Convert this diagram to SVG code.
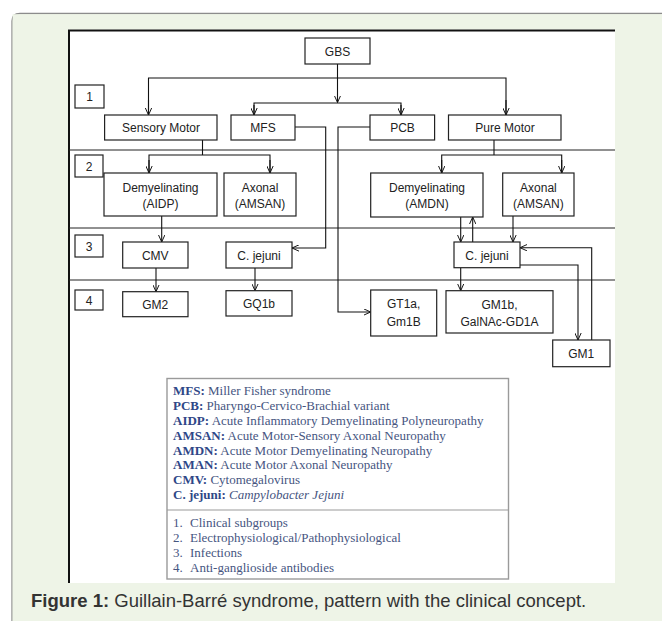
<svg xmlns="http://www.w3.org/2000/svg" width="662" height="621" viewBox="0 0 662 621">
<style>
.box{fill:#fff;stroke:#222;stroke-width:1.2}
.t{font-family:"Liberation Sans",Arial,sans-serif;font-size:12px;fill:#222;text-anchor:middle}
.ln{fill:none;stroke:#111;stroke-width:1.1}
.sep{stroke:#222;stroke-width:1}
.lg{font-family:"Liberation Serif","Times New Roman",serif;font-size:13px;fill:#46557f}
.lb{font-weight:bold;fill:#2f4787}
.cap{font-family:"Liberation Sans",Arial,sans-serif;font-size:18.5px;fill:#333}
</style>
<defs>
<marker id="ar" viewBox="0 0 10 10" refX="10" refY="5" markerWidth="7" markerHeight="7" markerUnits="userSpaceOnUse" orient="auto">
<path d="M0,0.5 L10,5 L0,9.5" fill="none" stroke="#111" stroke-width="1.4"/>
</marker>
</defs>
<g id="panel">
<path d="M12,621 L12,21 Q12,13.5 20,13.5 L662,13.5" fill="#eef4e7" stroke="#8c8c8c" stroke-width="1.3"/>
<rect x="12.6" y="14.2" width="650" height="607" fill="#eef4e7"/>
<rect x="68" y="29.5" width="547" height="553.5" fill="#fff"/>
<path d="M69,583 L69,30.5 L615,30.5" fill="none" stroke="#111" stroke-width="2"/>
</g>
<g id="rows">
<line class="sep" x1="69" y1="150" x2="615" y2="150"/>
<line class="sep" x1="69" y1="228" x2="615" y2="228"/>
<line class="sep" x1="69" y1="280" x2="615" y2="280"/>
</g>
<g id="connectors">
<path class="ln" d="M337.5,64 L337.5,102.5" marker-end="url(#ar)"/>
<path class="ln" d="M148.5,115 L148.5,78 L506,78 L506,115" />
<path class="ln" d="M148.5,100 L148.5,115" marker-end="url(#ar)"/>
<path class="ln" d="M506,100 L506,115" marker-end="url(#ar)"/>
<path class="ln" d="M254,115 L254,103 L401,103 L401,115"/>
<path class="ln" d="M254,105 L254,115" marker-end="url(#ar)"/>
<path class="ln" d="M401,105 L401,115" marker-end="url(#ar)"/>
<path class="ln" d="M295,127 L325.7,127 L325.7,248 L292,248" marker-end="url(#ar)"/>
<path class="ln" d="M370,127 L338,127 L338,312 L370.7,312" marker-end="url(#ar)"/>
<path class="ln" d="M202.5,140 L202.5,155"/>
<path class="ln" d="M149,173 L149,155 L270,155 L270,173"/>
<path class="ln" d="M149,160 L149,173" marker-end="url(#ar)"/>
<path class="ln" d="M270,160 L270,173" marker-end="url(#ar)"/>
<path class="ln" d="M494,140 L494,155"/>
<path class="ln" d="M441.7,173 L441.7,155 L561.7,155 L561.7,173"/>
<path class="ln" d="M441.7,160 L441.7,173" marker-end="url(#ar)"/>
<path class="ln" d="M561.7,160 L561.7,173" marker-end="url(#ar)"/>
<path class="ln" d="M161.7,216 L161.7,242" marker-end="url(#ar)"/>
<path class="ln" d="M156,268 L156,291.7" marker-end="url(#ar)"/>
<path class="ln" d="M255,268 L255,290.7" marker-end="url(#ar)"/>
<path class="ln" d="M460.7,217 L460.7,242" marker-end="url(#ar)"/>
<path class="ln" d="M472.7,242 L472.7,217" marker-end="url(#ar)"/>
<path class="ln" d="M513,216 L513,242" marker-end="url(#ar)"/>
<path class="ln" d="M460.7,268 L460.7,290.7" marker-end="url(#ar)"/>
<path class="ln" d="M520,265 L578,265 L578,340" marker-end="url(#ar)"/>
<path class="ln" d="M591.7,340 L591.7,247.7 L520,247.7" marker-end="url(#ar)"/>
</g>
<g id="n-gbs"><rect class="box" x="305" y="38" width="65" height="26"/><text class="t" x="337.5" y="55.5">GBS</text></g>
<g id="n-l1"><rect class="box" x="75" y="85" width="29" height="23"/><text class="t" x="89.5" y="101">1</text></g>
<g id="n-sm"><rect class="box" x="104.6" y="115" width="112.4" height="25"/><text class="t" x="161" y="132">Sensory Motor</text></g>
<g id="n-mfs"><rect class="box" x="231" y="115" width="64" height="25"/><text class="t" x="263" y="132">MFS</text></g>
<g id="n-pcb"><rect class="box" x="370" y="115" width="64.6" height="25"/><text class="t" x="402.5" y="132">PCB</text></g>
<g id="n-pm"><rect class="box" x="448.5" y="115" width="112.5" height="25"/><text class="t" x="505" y="132">Pure Motor</text></g>
<g id="n-l2"><rect class="box" x="75" y="155" width="28" height="22"/><text class="t" x="89" y="170.5">2</text></g>
<g id="n-aidp"><rect class="box" x="104" y="173" width="113" height="43"/><text class="t" x="160.5" y="192">Demyelinating</text><text class="t" x="160.5" y="207.5">(AIDP)</text></g>
<g id="n-amsan1"><rect class="box" x="224" y="173" width="72" height="43"/><text class="t" x="260" y="192">Axonal</text><text class="t" x="260" y="207.5">(AMSAN)</text></g>
<g id="n-amdn"><rect class="box" x="370.7" y="173" width="112.3" height="44"/><text class="t" x="427" y="192">Demyelinating</text><text class="t" x="427" y="207.5">(AMDN)</text></g>
<g id="n-amsan2"><rect class="box" x="502.7" y="173" width="71.3" height="43"/><text class="t" x="538.4" y="192">Axonal</text><text class="t" x="538.4" y="207.5">(AMSAN)</text></g>
<g id="n-l3"><rect class="box" x="75" y="235" width="28" height="22"/><text class="t" x="89" y="250.5">3</text></g>
<g id="n-cmv"><rect class="box" x="122.7" y="242" width="65.3" height="26"/><text class="t" x="155.3" y="259.5">CMV</text></g>
<g id="n-cj1"><rect class="box" x="226" y="242" width="66" height="26"/><text class="t" x="259" y="259.5">C. jejuni</text></g>
<g id="n-cj2"><rect class="box" x="454" y="242" width="66" height="25.7"/><text class="t" x="487" y="259.5">C. jejuni</text></g>
<g id="n-l4"><rect class="box" x="75" y="290" width="28" height="20"/><text class="t" x="89" y="304.5">4</text></g>
<g id="n-gm2"><rect class="box" x="122.7" y="291.7" width="65.3" height="25"/><text class="t" x="155.3" y="308.5">GM2</text></g>
<g id="n-gq1b"><rect class="box" x="226" y="290.7" width="66" height="25.3"/><text class="t" x="259" y="307.5">GQ1b</text></g>
<g id="n-gt1a"><rect class="box" x="370.7" y="290" width="66" height="46"/><text class="t" x="403.7" y="307.5">GT1a,</text><text class="t" x="403.7" y="326">Gm1B</text></g>
<g id="n-gm1b"><rect class="box" x="446" y="290.7" width="107" height="42.3"/><text class="t" x="499.5" y="308.5">GM1b,</text><text class="t" x="499.5" y="325.5">GalNAc-GD1A</text></g>
<g id="n-gm1"><rect class="box" x="552.7" y="340" width="57.3" height="26.7"/><text class="t" x="581.3" y="358">GM1</text></g>
<g id="legend">
<rect x="167" y="378.5" width="341.5" height="200.5" fill="#fff" stroke="#9a9a9a" stroke-width="1.4"/>
<line x1="167" y1="510" x2="508.5" y2="510" stroke="#9a9a9a" stroke-width="1.2"/>
<text class="lg" x="173" y="395"><tspan class="lb">MFS:</tspan> Miller Fisher syndrome</text>
<text class="lg" x="173" y="410"><tspan class="lb">PCB:</tspan> Pharyngo-Cervico-Brachial variant</text>
<text class="lg" x="173" y="425"><tspan class="lb">AIDP:</tspan> Acute Inflammatory Demyelinating Polyneuropathy</text>
<text class="lg" x="173" y="440"><tspan class="lb">AMSAN:</tspan> Acute Motor-Sensory Axonal Neuropathy</text>
<text class="lg" x="173" y="454.5"><tspan class="lb">AMDN:</tspan> Acute Motor Demyelinating Neuropathy</text>
<text class="lg" x="173" y="469"><tspan class="lb">AMAN:</tspan> Acute Motor Axonal Neuropathy</text>
<text class="lg" x="173" y="484"><tspan class="lb">CMV:</tspan> Cytomegalovirus</text>
<text class="lg" x="173" y="499"><tspan class="lb">C. jejuni:</tspan> <tspan font-style="italic">Campylobacter Jejuni</tspan></text>
<text class="lg" x="173" y="527">1.</text><text class="lg" x="190" y="527">Clinical subgroups</text>
<text class="lg" x="173" y="542">2.</text><text class="lg" x="190" y="542">Electrophysiological/Pathophysiological</text>
<text class="lg" x="173" y="557">3.</text><text class="lg" x="190" y="557">Infections</text>
<text class="lg" x="173" y="572">4.</text><text class="lg" x="190" y="572">Anti-ganglioside antibodies</text>
</g>
<g id="caption">
<text class="cap" x="31" y="607"><tspan font-weight="bold">Figure 1:</tspan> Guillain-Barré syndrome, pattern with the clinical concept.</text>
</g>
</svg>
